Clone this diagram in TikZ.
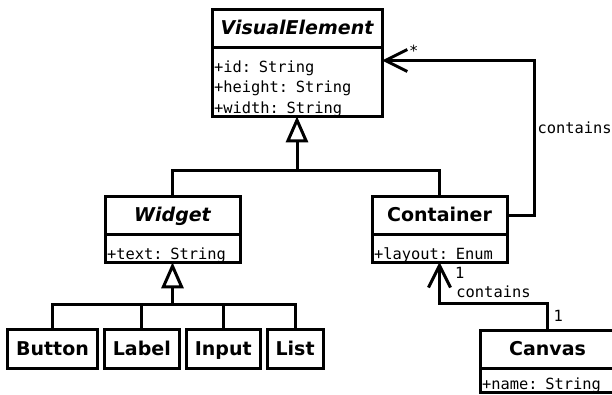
\documentclass[tikz,border=0pt]{standalone}
\usepackage{fontspec}
\newfontfamily\umlsans{DejaVu Sans}[BoldFont={DejaVu Sans Bold},ItalicFont={DejaVu Sans Oblique},BoldItalicFont={DejaVu Sans Bold Oblique}]
\newfontfamily\umlmono{DejaVu Sans Mono}
\usetikzlibrary{arrows.meta,positioning}
\newcommand{\attrstrut}[1][25pt]{\rule{0pt}{#1}}

\begin{document}
\begin{tikzpicture}[x=1pt,y=-1pt,
      wire/.style={line width=3pt},
      cls/.style={draw,wire,outer sep=0pt,inner sep=0pt,minimum height=38pt,text height=13.5pt,text depth=0pt,font=\umlsans\bfseries\fontsize{19}{22}\selectfont},
      attr/.style={draw,wire,outer sep=0pt,inner xsep=2pt,inner ysep=0pt,anchor=north,align=left,font=\umlmono\fontsize{15.4}{20.5}\selectfont},
      leaf/.style={cls,inner xsep=8.5pt,minimum height=39pt},
      lbl/.style={inner sep=1pt,text height=11pt,text depth=3.5pt,font=\umlmono\fontsize{15.4}{18}\selectfont},
      inherits/.style={wire,-{Triangle[open,length=26pt,width=22pt]}},
      assoc/.style={wire,-{Straight Barb[length=22pt,width=22pt]}}
    ]
      \useasboundingbox (0,0) rectangle (612,394);

      \node[cls,minimum width=170pt] (visual) at (297,28) {\itshape VisualElement};
      \node[attr,text width=166pt] (visual-attr) at (visual.south) {\attrstrut+id: String\\+height: String\\+width: String};

      \node[cls,minimum width=135pt] (widget) at (172.5,215) {\itshape Widget};
      \node[attr,text width=131pt] (widget-attr) at (widget.south) {\attrstrut+text: String};

      \node[cls,minimum width=135pt] (container) at (439.5,215) {Container};
      \node[attr,text width=131pt] (container-attr) at (container.south) {\attrstrut+layout: Enum};

      \node[cls,minimum width=135pt] (canvas) at (547.5,349) {Canvas};
      \node[attr,text width=131pt] (canvas-attr) at (canvas.south) {\attrstrut[21.5pt]+name: String};

      \node[leaf] (button) at (52.5,348.5) {Button};
      \node[leaf,right=7pt of button] (label) {Label};
      \node[leaf,right=7pt of label] (input) {Input};
      \node[leaf,right=7pt of input] (list) {List};

      \coordinate (clsbus) at ([yshift=-54pt]visual-attr.south);
      \draw[wire] (widget.north) |- (clsbus) -| (container.north);
      \draw[inherits] (clsbus) -- (visual-attr.south);

      \coordinate (leafbus) at ([yshift=-42pt]widget-attr.south);
      \draw[wire] (button.north) |- (leafbus) -| (list.north);
      \draw[wire] (label.north) -- (label.north |- leafbus);
      \draw[wire] (input.north) -- (input.north |- leafbus);
      \draw[inherits] (leafbus) -- (widget-attr.south);

      \coordinate (loop) at (534,60.5);
      \draw[assoc] (container.east) -| (loop) node[lbl,anchor=base west,xshift=1pt,yshift=-72.5pt] {contains}
        -- (loop -| visual-attr.east) node[lbl,anchor=base west,xshift=24.5pt,yshift=3.7pt] {*};

      \coordinate (canvasbend) at ([yshift=27pt]canvas.north);
      \draw[assoc] (canvas.north) node[lbl,anchor=base west,xshift=3.5pt,yshift=9pt] {1}
        -- (canvasbend) -| node[lbl,pos=0.25,above] {contains} (container-attr.south)
        node[lbl,anchor=base west,xshift=13pt,yshift=-16pt] {1};
    \end{tikzpicture}
\end{document}
